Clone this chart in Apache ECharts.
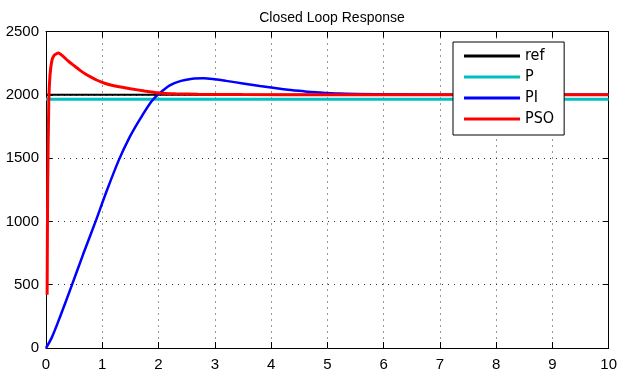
<!DOCTYPE html>
<html>
<head>
<meta charset="utf-8">
<script src="https://cdn.jsdelivr.net/npm/echarts@6/dist/echarts.min.js"></script>
<style>
html, body { margin: 0; padding: 0; background: #fff; }
#chart { width: 620px; height: 372px; }
</style>
</head>
<body>
<div id="chart"></div>
<script>
// time axis (s) and responses
var refX = [0, 10];
var refY = [2000, 2000];

var pX = [0, 10];
var pY = [1965, 1965];

var piX = [0, 0.1, 0.24, 0.45, 0.66, 0.89, 1.07, 1.29, 1.48, 1.66, 1.87, 2.0,
	2.2, 2.4, 2.6, 2.8, 3.0, 3.2, 3.5, 3.8, 4.0, 4.3, 4.6, 4.8, 5.2, 6, 7, 10];
var piY = [0, 80, 235, 485, 740, 1010, 1230, 1480, 1660, 1800, 1945, 2005,
	2075, 2110, 2127, 2130, 2122, 2110, 2090, 2070, 2058, 2040, 2027, 2020, 2010, 2004, 2001, 2000];

var psoX = [0.02, 0.03, 0.05, 0.07, 0.1, 0.14, 0.22, 0.3, 0.4, 0.5, 0.6, 0.7, 0.8, 0.9, 1.0, 1.1, 1.25, 1.5, 1.75, 2.0, 2.3, 2.7, 3.5, 5, 10];
var psoY = [420, 1300, 1950, 2150, 2260, 2310, 2330, 2305, 2265, 2230, 2195, 2165, 2140, 2117, 2098, 2083, 2068, 2048, 2030, 2015, 2008, 2005, 2002, 2001, 2000];

var xTicks = [0, 1, 2, 3, 4, 5, 6, 7, 8, 9, 10];
var yTicks = [0, 500, 1000, 1500, 2000, 2500];

function zip(xs, ys) {
	return xs.map(function (x, i) { return [x, ys[i]]; });
}

var myChart = echarts.init(document.getElementById('chart'), null, { renderer: 'canvas' });

var labelFont = { color: '#000', fontSize: 15, fontFamily: 'Liberation Sans, Arial, sans-serif' };
var dotted = { color: '#333', width: 1, type: [1, 5] };

function boxAxis(pos, isX, main) {
	var ticks = isX ? xTicks : yTicks;
	return {
		type: 'value',
		position: pos,
		min: ticks[0],
		max: ticks[ticks.length - 1],
		interval: ticks[1] - ticks[0],
		axisLine: { show: true, onZero: false, lineStyle: { color: '#000', width: 1 } },
		axisTick: { show: true, inside: true, length: 6, lineStyle: { color: '#000' } },
		axisLabel: Object.assign({
			show: main,
			margin: isX ? 9 : 7,
			formatter: function (v) { return String(v); } // no thousands comma
		}, labelFont),
		splitLine: { show: main, lineStyle: dotted }
	};
}

var option = {
	backgroundColor: '#fff',
	animation: false,
	title: {
		text: 'Closed Loop Response',
		left: 327,
		textAlign: 'center',
		top: 6,
		textStyle: { color: '#000', fontSize: 14, fontWeight: 'normal', fontFamily: 'Liberation Sans, Arial, sans-serif' }
	},
	grid: { left: 46, right: 8, top: 31.5, bottom: 24 },
	xAxis: [boxAxis('bottom', true, true), boxAxis('top', true, false)],
	yAxis: [boxAxis('left', false, true), boxAxis('right', false, false)],
	legend: {
		data: ['ref', 'P', 'PI', 'PSO'],
		orient: 'vertical',
		left: 453,
		top: 42,
		padding: [6, 10, 8, 11],
		itemGap: 5,
		itemWidth: 56,
		itemHeight: 3,
		icon: 'rect',
		backgroundColor: '#fff',
		borderColor: '#000',
		borderWidth: 1,
		borderRadius: 0,
		selectedMode: false,
		textStyle: { color: '#000', fontSize: 16, lineHeight: 16, fontFamily: 'DejaVu Sans Condensed, Liberation Sans, sans-serif' }
	},
	series: [
		{ name: 'ref', type: 'line', showSymbol: false, color: '#000', lineStyle: { width: 2 }, data: zip(refX, refY) },
		{ name: 'P', type: 'line', showSymbol: false, color: '#00bfbf', lineStyle: { width: 3 }, data: zip(pX, pY) },
		{ name: 'PI', type: 'line', showSymbol: false, smooth: 0.3, color: '#0000ff', lineStyle: { width: 2.5 }, data: zip(piX, piY) },
		{ name: 'PSO', type: 'line', showSymbol: false, smooth: 0.2, color: '#ff0000', lineStyle: { width: 3 }, data: zip(psoX, psoY) }
	]
};

myChart.setOption(option);
</script>
</body>
</html>
